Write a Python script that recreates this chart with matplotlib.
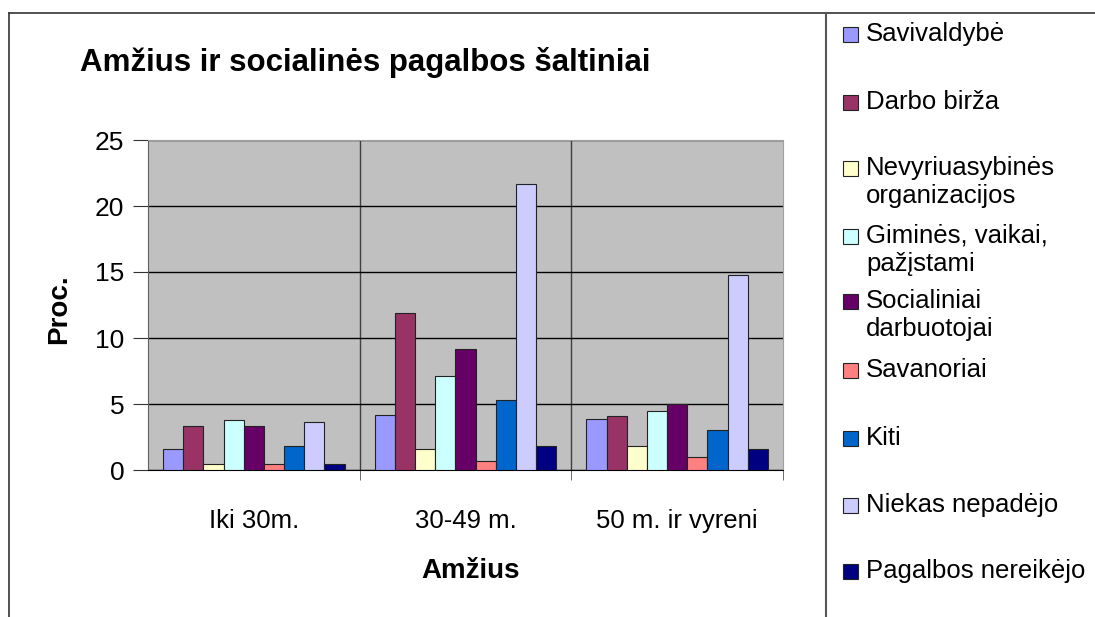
import matplotlib.pyplot as plt
import numpy as np
from matplotlib.lines import Line2D
from matplotlib.patches import Rectangle

plt.rcParams['font.family'] = ['Liberation Sans', 'DejaVu Sans']

# duomenys
categories = ["Iki 30m.", "30-49 m.", "50 m. ir vyreni"]
series_labels = [
    "Savivaldybė", "Darbo birža", "Nevyriuasybinės\norganizacijos",
    "Giminės, vaikai,\npažįstami", "Socialiniai\ndarbuotojai", "Savanoriai",
    "Kiti", "Niekas nepadėjo", "Pagalbos nereikėjo",
]
savivaldybe = [1.6, 4.2, 3.9]
darbo_birza = [3.3, 11.9, 4.1]
nevyriausybines = [0.45, 1.6, 1.8]
gimines = [3.8, 7.1, 4.5]
socialiniai = [3.3, 9.2, 5.0]
savanoriai = [0.45, 0.7, 1.0]
kiti = [1.8, 5.3, 3.0]
niekas = [3.6, 21.7, 14.8]
nereikejo = [0.45, 1.8, 1.6]
series_values = [savivaldybe, darbo_birza, nevyriausybines, gimines,
                 socialiniai, savanoriai, kiti, niekas, nereikejo]
colors = ["#9999FF", "#993366", "#FFFFCC", "#CCFFFF", "#660066",
          "#FF8080", "#0066CC", "#CCCCFF", "#000080"]

W, H = 1095, 617
fig = plt.figure(figsize=(W / 100, H / 100), dpi=100)
ax = fig.add_axes([148 / W, 1 - 470 / H, (783 - 148) / W, (470 - 140) / H])
ax.set_facecolor("#C0C0C0")

n = len(series_values)
w = 1 / (n + 1.5)
x = np.arange(len(categories))
for i, vals in enumerate(series_values):
    ax.bar(x + (i - (n - 1) / 2) * w, vals, width=w, color=colors[i],
           edgecolor="#222222", linewidth=0.8, zorder=3)

ax.set_xlim(-0.5, 2.5)
ax.set_ylim(0, 25)
ax.set_yticks(np.arange(0, 26, 5))
ax.yaxis.grid(True, color="black", linewidth=1, zorder=1)
ax.set_xticks(x)
ax.set_xticklabels(categories, fontsize=18.5)
ax.set_xticks([0.5, 1.5, 2.5], minor=True)
ax.tick_params(axis="x", which="major", length=0, pad=28)
ax.tick_params(axis="x", which="minor", length=7, color="#555555")
ax.tick_params(axis="y", length=11, labelsize=19, pad=6, color="#333333")
for xv in [0.5, 1.5]:
    ax.axvline(xv, color="#404040", linewidth=1, zorder=1)

for s in ["top", "right"]:
    ax.spines[s].set_color("#A0A0A0")
ax.spines["left"].set_color("#606060")
ax.spines["bottom"].set_color("black")

# ašių pavadinimai ir antraštė
fig.text(59 / W, 1 - 309 / H, "Proc.", fontsize=20, fontweight="bold",
         rotation=90, ha="center", va="center")
fig.text(471 / W, 1 - 578 / H, "Amžius", fontsize=20, fontweight="bold",
         ha="center", va="baseline")
fig.text(80 / W, 1 - 71 / H, "Amžius ir socialinės pagalbos šaltiniai",
         fontsize=22.5, fontweight="bold", va="baseline", ha="left")

# rėmeliai
fig.add_artist(Line2D([9 / W, 9 / W], [0, 1 - 13 / H], color="#333333", lw=1.2))
fig.add_artist(Line2D([9 / W, 1], [1 - 13 / H, 1 - 13 / H], color="#333333", lw=1.2))
fig.add_artist(Line2D([826 / W, 826 / W], [0, 1 - 13 / H], color="#555555", lw=1.5))

# legenda
legend_baseline = [41, 109, 175, 243, 308, 377, 445, 512, 578]
for lab, col, yy in zip(series_labels, colors, legend_baseline):
    fig.add_artist(Rectangle((843 / W, 1 - (yy + 1) / H), 15 / W, 15 / H,
                             facecolor=col, edgecolor="#222222", lw=0.8,
                             transform=fig.transFigure))
    for k, line in enumerate(lab.split("\n")):
        fig.text(866 / W, 1 - (yy + 28 * k) / H, line, fontsize=18.5,
                 va="baseline", ha="left")

fig.savefig("out.png", dpi=100)
